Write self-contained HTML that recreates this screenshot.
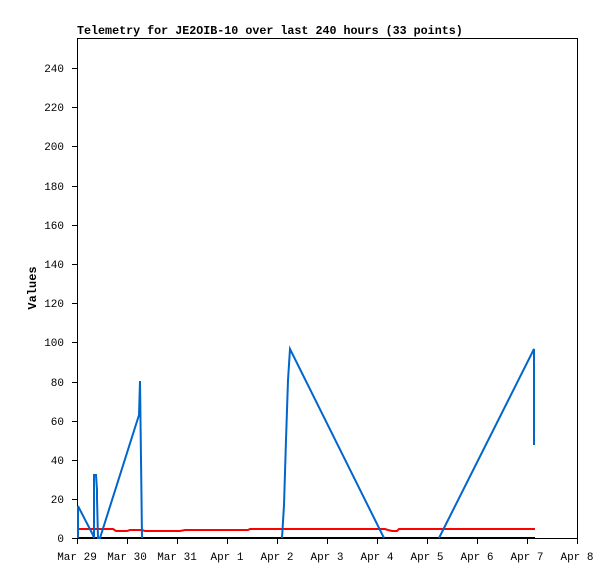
<!DOCTYPE html>
<html><head><style>
body{margin:0;background:#fff;}
svg{display:block;font-family:"Liberation Mono","DejaVu Sans Mono",monospace;}
</style></head><body>
<svg width="615" height="579" xmlns="http://www.w3.org/2000/svg">
<rect width="615" height="579" fill="#fff"/>
<text x="77" y="34" font-size="11.7" font-weight="bold" fill="#000">Telemetry for JE2OIB-10 over last 240 hours (33 points)</text>
<rect x="77.5" y="38.5" width="500" height="500" fill="none" stroke="#000" stroke-width="1"/>
<g font-size="11" fill="#000" text-anchor="end">
<text x="64" y="542">0</text><text x="64" y="503">20</text><text x="64" y="464">40</text><text x="64" y="425">60</text><text x="64" y="386">80</text><text x="64" y="346">100</text><text x="64" y="307">120</text><text x="64" y="268">140</text><text x="64" y="229">160</text><text x="64" y="190">180</text><text x="64" y="150">200</text><text x="64" y="111">220</text><text x="64" y="72">240</text>
</g>
<g stroke="#000" stroke-width="1">
<line x1="72" y1="538.5" x2="77" y2="538.5"/><line x1="72" y1="499.5" x2="77" y2="499.5"/><line x1="72" y1="460.5" x2="77" y2="460.5"/><line x1="72" y1="421.5" x2="77" y2="421.5"/><line x1="72" y1="382.5" x2="77" y2="382.5"/><line x1="72" y1="342.5" x2="77" y2="342.5"/><line x1="72" y1="303.5" x2="77" y2="303.5"/><line x1="72" y1="264.5" x2="77" y2="264.5"/><line x1="72" y1="225.5" x2="77" y2="225.5"/><line x1="72" y1="186.5" x2="77" y2="186.5"/><line x1="72" y1="146.5" x2="77" y2="146.5"/><line x1="72" y1="107.5" x2="77" y2="107.5"/><line x1="72" y1="68.5" x2="77" y2="68.5"/>
<line x1="77.5" y1="538" x2="77.5" y2="544"/><line x1="127.5" y1="538" x2="127.5" y2="544"/><line x1="177.5" y1="538" x2="177.5" y2="544"/><line x1="227.5" y1="538" x2="227.5" y2="544"/><line x1="277.5" y1="538" x2="277.5" y2="544"/><line x1="327.5" y1="538" x2="327.5" y2="544"/><line x1="377.5" y1="538" x2="377.5" y2="544"/><line x1="427.5" y1="538" x2="427.5" y2="544"/><line x1="477.5" y1="538" x2="477.5" y2="544"/><line x1="527.5" y1="538" x2="527.5" y2="544"/><line x1="577.5" y1="538" x2="577.5" y2="544"/>
</g>
<g font-size="11" fill="#000" text-anchor="middle">
<text x="77" y="560">Mar 29</text><text x="127" y="560">Mar 30</text><text x="177" y="560">Mar 31</text><text x="227" y="560">Apr 1</text><text x="277" y="560">Apr 2</text><text x="327" y="560">Apr 3</text><text x="377" y="560">Apr 4</text><text x="427" y="560">Apr 5</text><text x="477" y="560">Apr 6</text><text x="527" y="560">Apr 7</text><text x="577" y="560">Apr 8</text>
</g>
<text transform="translate(36,288) rotate(-90)" font-size="12" font-weight="bold" text-anchor="middle">Values</text>
<polyline fill="none" stroke="#ff0000" stroke-width="2" points="77,529 113,529 116,531 127,531 130,530 142,530 145,531 180,531 185,530 248,530 250,529 385,529 388,530 392,531 397,531 399,529 535,529"/>
<line x1="77" y1="538" x2="535" y2="538" stroke="#000" stroke-width="2"/>
<polyline fill="none" stroke="#0066cc" stroke-width="2" points="78,538 78,506 93,535 94,538 94,475 96,475 97,490 97,498 98,538 100,538 139,415 140,381 141,459 142,538"/>
<polyline fill="none" stroke="#0066cc" stroke-width="2" points="282,538 284,505 286,440 288,380 290,349 384,538"/>
<polyline fill="none" stroke="#0066cc" stroke-width="2" points="439,538 534,349 534,445"/>
</svg>
</body></html>
